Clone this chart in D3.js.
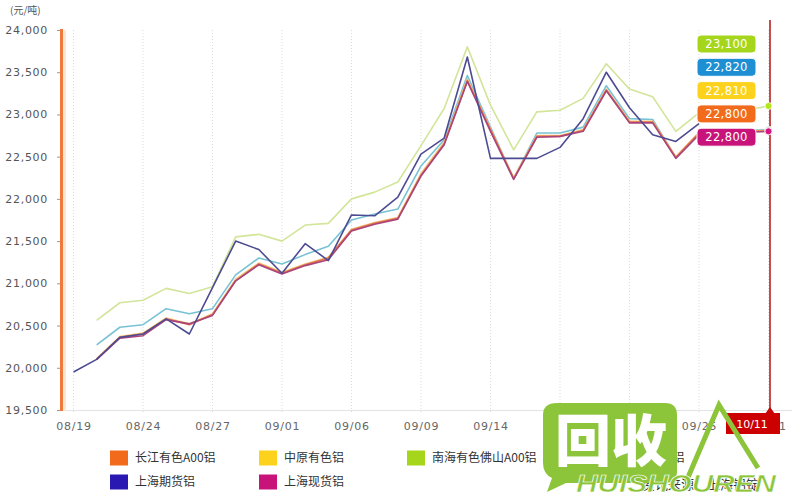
<!DOCTYPE html>
<html><head><meta charset="utf-8">
<script src="https://cdn.jsdelivr.net/npm/d3@7"></script>
<style>body{margin:0;background:#fff;} svg{display:block;}</style>
</head><body><svg id="chart" width="800" height="500"></svg>
<script>
const dates = ["08/19","08/20","08/22","08/24","08/25","08/26","08/27","08/29","08/30","09/01","09/02","09/04","09/06","09/07","09/08","09/09","09/11","09/12","09/14","09/15","09/16","09/17","09/19","09/20","09/22","09/23","09/24","09/25","09/27","09/29","10/11"];
const tickDates = ["08/19","08/24","08/27","09/01","09/06","09/09","09/14","09/17","09/22","09/25","10/11"];
const yTicks = [19500,20000,20500,21000,21500,22000,22500,23000,23500,24000];

const seriesNames = ["长江有色A00铝","中原有色铝","南海有色佛山A00铝","上海华通有色A00铝","上海期货铝","上海现货铝"];
const changjiang = [null,20100,20360,20400,20580,20510,20630,21030,21230,21120,21220,21300,21630,21710,21770,22280,22650,23400,22820,22240,22740,22740,22810,23290,22910,22910,22490,22780,22790,22800,22800];
const zhongyuan  = [null,20110,20370,20410,20590,20520,20640,21050,21240,21130,21230,21310,21640,21720,21780,22300,22670,23420,22830,22250,22750,22750,22820,23300,22920,22920,22500,22790,22800,22810,22810];
const nanhai     = [null,20560,20770,20800,20940,20880,20960,21550,21580,21500,21690,21710,22000,22080,22200,22630,23070,23800,23110,22580,23030,23050,23190,23600,23300,23210,22800,23020,23030,23050,23100];
const huatong    = [null,20270,20480,20510,20700,20640,20700,21100,21300,21230,21340,21440,21750,21820,21880,22390,22700,23460,22850,22240,22780,22780,22850,23340,22950,22940,22490,22780,22800,22810,22820];
const shFutures  = [19950,20100,20360,20400,20580,20400,20950,21500,21400,21120,21470,21270,21810,21800,22020,22530,22720,23680,22480,22480,22480,22610,22950,23500,23080,22760,22680,22890,null,null,null];
const shSpot     = [null,20100,20350,20380,20570,20520,20620,21030,21220,21110,21210,21280,21620,21700,21760,22270,22640,23390,22800,22230,22730,22740,22800,23280,22900,22900,22480,22760,22780,22790,22800];

const seriesValues = [changjiang, zhongyuan, nanhai, huatong, shFutures, shSpot];
const legendColors = ["#f26b1d","#fcd21c","#a6d61c","#1e8fd2","#2a18b2","#c8147a"];
const lineColors   = ["#e2704c","#f3c57a","#d2e59a","#78c2d6","#4d4b92","#a9457a"];
const drawOrder = [2,3,1,0,5,4];

const svg = d3.select("#chart");
const font = "'DejaVu Sans', Verdana, sans-serif";
const cjk = "'Noto Sans CJK SC', 'Noto Sans', sans-serif";

const x = d3.scalePoint().domain(dates).range([73.5, 768.5]);
const y = d3.scaleLinear().domain([19500, 24000]).range([410, 30]);

// vertical dotted grid
svg.append("g").selectAll("line").data(tickDates).join("line")
  .attr("x1", d => x(d)).attr("x2", d => x(d))
  .attr("y1", 30).attr("y2", 414)
  .attr("stroke", "#dcdcdc").attr("stroke-width", 1).attr("stroke-dasharray", "1,2");

// bottom axis line
svg.append("line").attr("x1", 62).attr("x2", 792).attr("y1", 410.5).attr("y2", 410.5)
  .attr("stroke", "#e3e3e3").attr("stroke-width", 1);

// x labels
const xAxis = d3.axisBottom(x).tickValues(tickDates).tickSize(0).tickPadding(12);
const gx = svg.append("g").attr("transform", "translate(0,410)").call(xAxis);
gx.select(".domain").remove();
gx.selectAll("text").attr("font-family", font).attr("font-size", 11).attr("fill", "#666")
  .attr("letter-spacing", "0.8px");

// y axis
const yAxis = d3.axisLeft(y).tickValues(yTicks).tickFormat(d3.format(",")).tickSize(5).tickPadding(9);
const gy = svg.append("g").attr("transform", "translate(62,0)").call(yAxis);
gy.select(".domain").remove();
gy.selectAll(".tick line").attr("stroke", "#999");
gy.selectAll("text").attr("font-family", font).attr("font-size", 11).attr("fill", "#555")
  .attr("letter-spacing", "0.7px");
svg.append("line").attr("x1", 64.5).attr("x2", 64.5).attr("y1", 30).attr("y2", 411)
  .attr("stroke", "#fde6cc").attr("stroke-width", 3);
svg.append("line").attr("x1", 61.5).attr("x2", 61.5).attr("y1", 29).attr("y2", 411)
  .attr("stroke", "#f07a3c").attr("stroke-width", 3);

svg.append("text").attr("x", 10).attr("y", 14).attr("font-family", cjk).attr("font-size", 10)
  .attr("fill", "#555").text("(元/吨)");

// lines
const line = d3.line().defined(d => d != null).x((d, i) => x(dates[i])).y(d => y(d));
drawOrder.forEach(s => {
  svg.append("path").datum(seriesValues[s]).attr("d", line)
    .attr("fill", "none").attr("stroke", lineColors[s]).attr("stroke-width", 1.6)
    .attr("stroke-linejoin", "round");
});

// cursor
const lastDate = dates[dates.length - 1];
const cx = x(lastDate) + 1.5;
svg.append("line").attr("x1", cx).attr("x2", cx).attr("y1", 20).attr("y2", 412)
  .attr("stroke", "#b31212").attr("stroke-width", 1.5);

// markers at last point
const lastIdx = dates.length - 1;
const withLast = seriesValues.map((v, i) => ({i, v: v[lastIdx]})).filter(d => d.v != null);
[3,1,0,2,5].forEach(s => {
  const v = seriesValues[s][lastIdx];
  if (v == null) return;
  svg.append("circle").attr("cx", x(lastDate)).attr("cy", y(v)).attr("r", 3.5)
    .attr("fill", d3.color(legendColors[s]).brighter(0.2)).attr("stroke", "#fff").attr("stroke-width", 0.8);
});

// value labels
const sorted = withLast.slice().sort((a, b) => b.v - a.v);
const lg = svg.append("g");
sorted.forEach((d, k) => {
  const by = 35 + k * 23.3;
  lg.append("rect").attr("x", 697).attr("y", by).attr("width", 59).attr("height", 18).attr("rx", 4)
    .attr("fill", legendColors[d.i]).attr("stroke", "#fff").attr("stroke-width", 1);
  lg.append("text").attr("x", 726.5).attr("y", by + 9).attr("dy", "0.35em").attr("text-anchor", "middle")
    .attr("font-family", font).attr("font-size", 11.5).attr("fill", "#fff").attr("letter-spacing", "0.4px")
    .text(d3.format(",")(d.v));
});

// cursor date label
svg.append("path").attr("d", `M${cx-5},414 L${cx},407 L${cx+5},414 Z`).attr("fill", "#cc0000");
svg.append("rect").attr("x", 726).attr("y", 413).attr("width", 54).attr("height", 21).attr("fill", "#cc0000");
svg.append("text").attr("x", 752).attr("y", 424).attr("dy", "0.35em").attr("text-anchor", "middle")
  .attr("font-family", font).attr("font-size", 11).attr("fill", "#fff").text(lastDate);

// legend
const legendPos = [[110,458],[259,458],[407,458],[555,458],[110,482],[259,482]];
seriesNames.forEach((n, i) => {
  const [lx, ly] = legendPos[i];
  svg.append("rect").attr("x", lx).attr("y", ly - 7.5).attr("width", 18).attr("height", 15)
    .attr("fill", legendColors[i]);
  svg.append("text").attr("x", lx + 25).attr("y", ly).attr("dy", "0.35em")
    .attr("font-family", cjk).attr("font-size", 12).attr("fill", "#333").text(n);
});

// source note
svg.append("text").attr("x", 642).attr("y", 484).attr("dy", "0.35em").attr("font-family", cjk)
  .attr("font-size", 13).attr("fill", "#333").text("资讯来源：上海铝锭");

// watermark
const wm = svg.append("g");
const green = "#8cc43a";
wm.append("path").attr("d", "M557,403 H665 Q677,403 677,415 V471 Q677,483 665,483 H566 L547,492 L552,478 Q543,474 543,463 V415 Q543,403 557,403 Z")
  .attr("fill", green);
wm.append("text").attr("x", 611).attr("y", 441).attr("dy", "0.36em").attr("text-anchor", "middle")
  .attr("font-family", cjk).attr("font-weight", 900).attr("font-size", 56).attr("fill", "#fff").text("回收");
wm.append("path").attr("d", "M686,482 L719,405 L758,468").attr("fill", "none").attr("stroke", green)
  .attr("stroke-width", 5).attr("stroke-linejoin", "miter");
wm.append("text").attr("x", 576).attr("y", 492).attr("textLength", 200).attr("lengthAdjust", "spacingAndGlyphs")
  .attr("font-family", "'Liberation Sans', Arial, sans-serif").attr("font-style", "italic").attr("font-weight", "bold")
  .attr("font-size", 23).attr("fill", green).attr("stroke", "#fff").attr("stroke-width", 0.6).text("HUISHOUREN");
</script></body></html>
